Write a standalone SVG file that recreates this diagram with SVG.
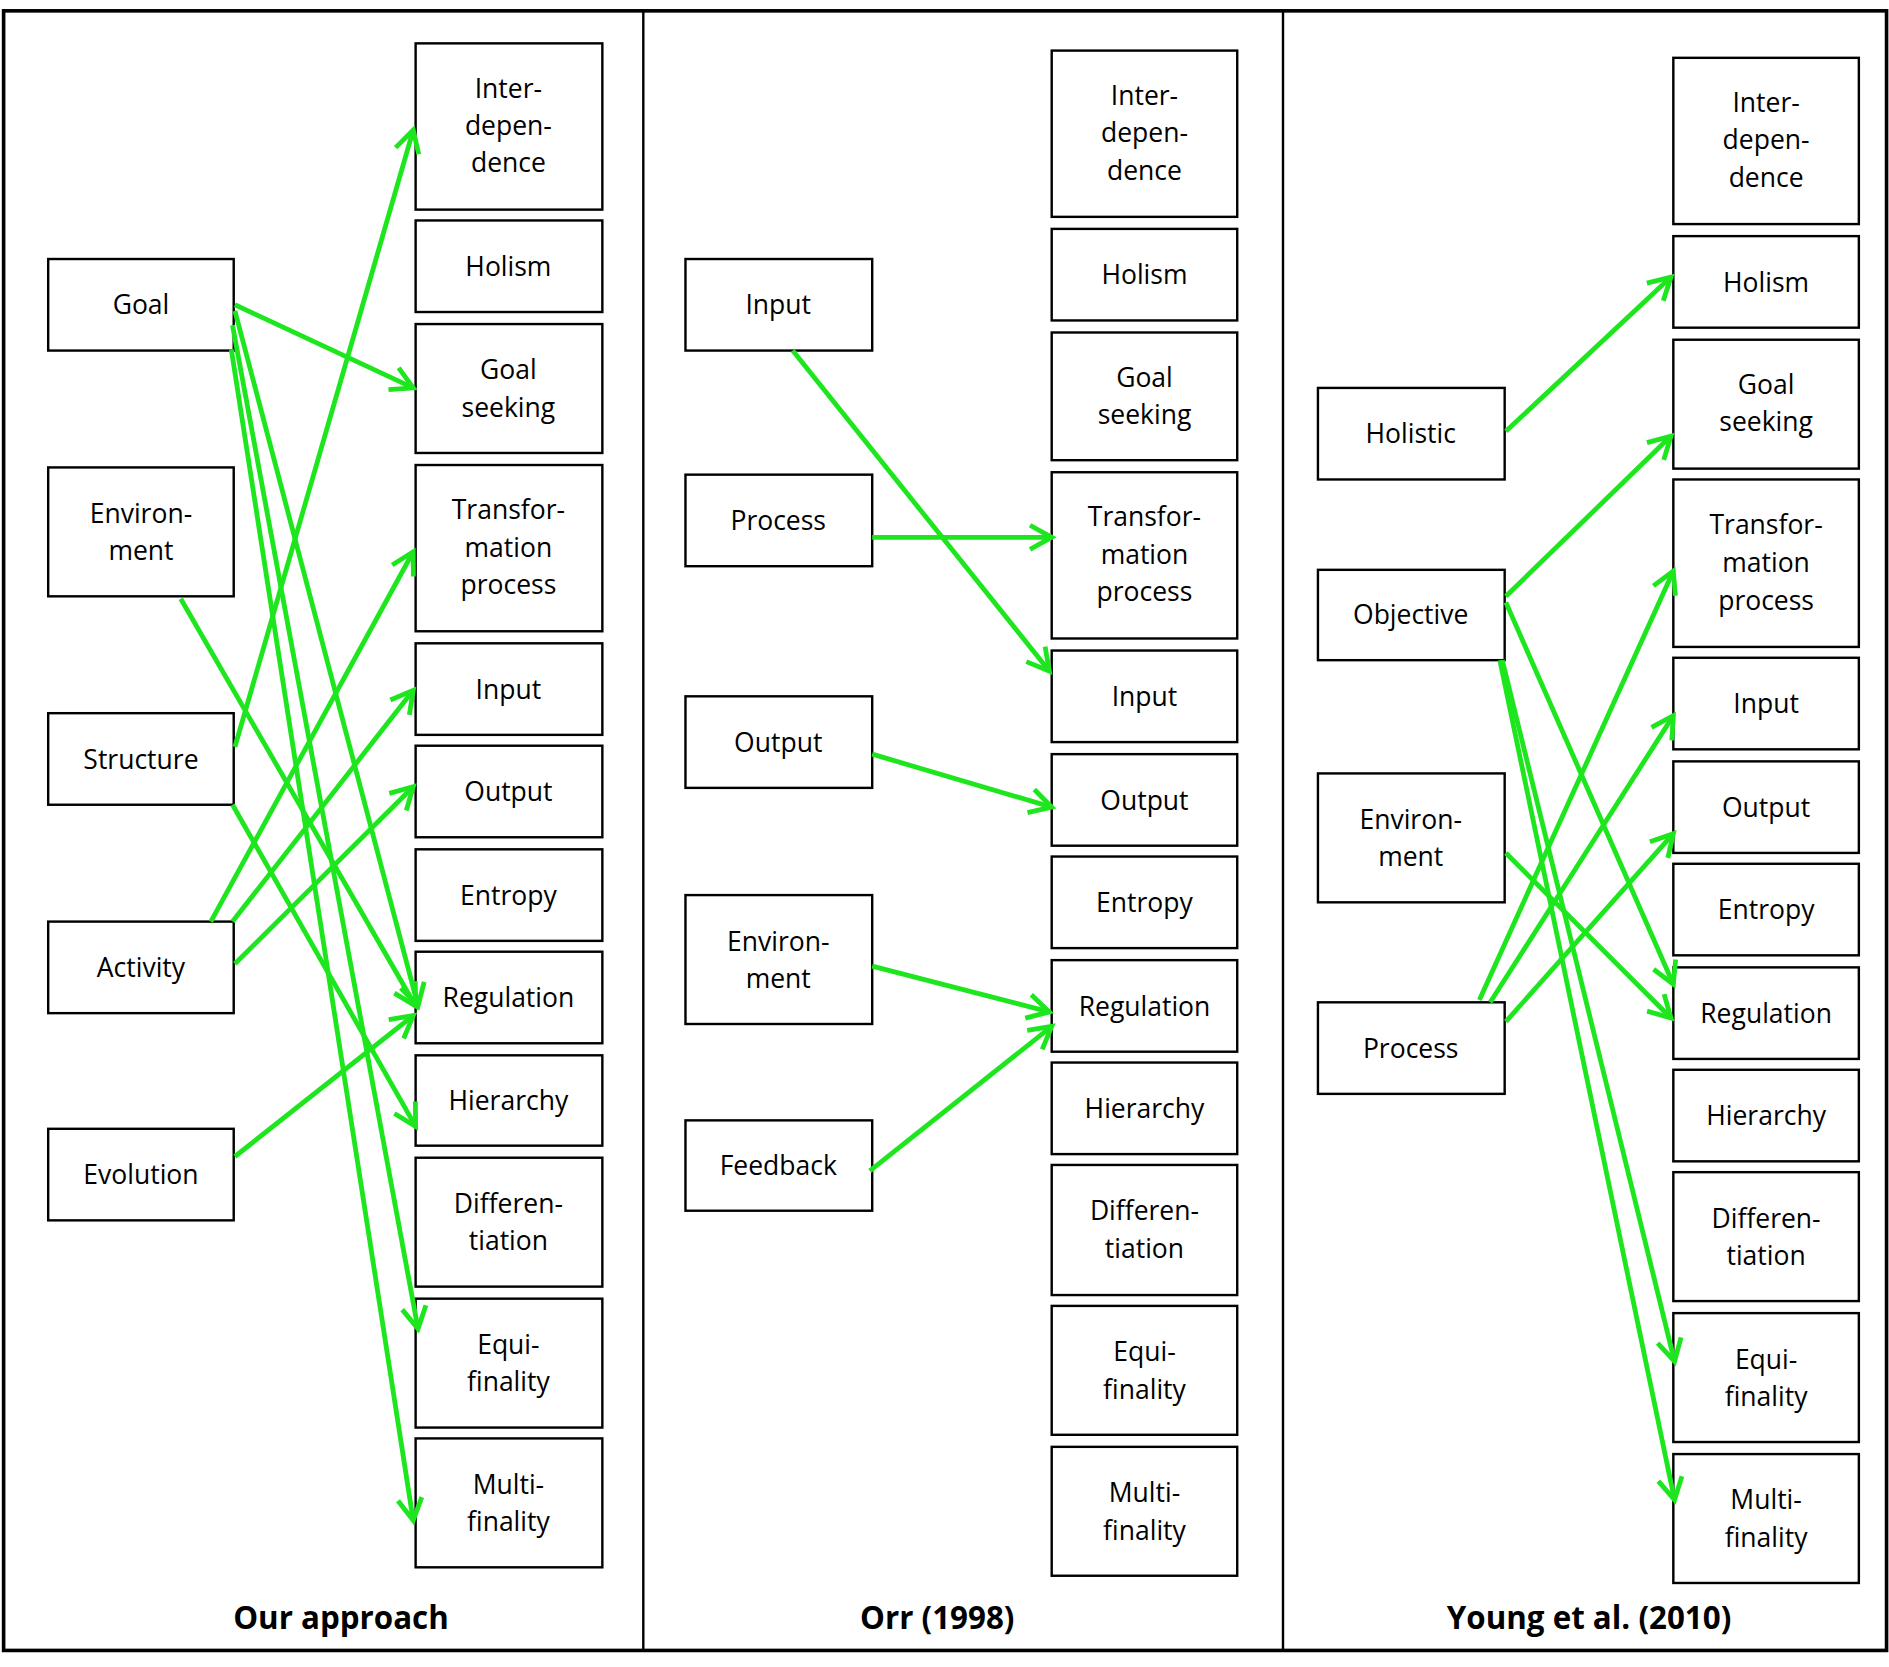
<svg xmlns="http://www.w3.org/2000/svg" width="1889" height="1667" viewBox="0 0 1889 1667">
<defs>
<style>
.b{fill:#fff;stroke:#000;stroke-width:2}
text{font-family:"Open Sans","DejaVu Sans",sans-serif;font-size:22px;text-anchor:middle;fill:#000}
.t{font-weight:bold;font-size:26px}
.c line{stroke:#1ee61e;stroke-width:4;marker-end:url(#a)}
</style>
<marker id="a" markerUnits="userSpaceOnUse" markerWidth="40" markerHeight="40" viewBox="-20 -20 40 40" refX="0" refY="0" orient="auto"><path d="M-18,-10 L0,0 L-18,10" fill="none" stroke="#1ee61e" stroke-width="4"/></marker>
</defs>
<rect width="1889" height="1667" fill="#fff"/>
<g transform="scale(1.2047,1.2047)">
<g id="frame"><rect x="3" y="9" width="1563" height="1361" fill="none" stroke="#000" stroke-width="3"/><line x1="534" y1="9" x2="534" y2="1370" stroke="#000" stroke-width="2"/><line x1="1065" y1="9" x2="1065" y2="1370" stroke="#000" stroke-width="2"/></g>
<g id="titles"><text class="t" x="283" y="1352">Our approach</text><text class="t" x="778" y="1352">Orr (1998)</text><text class="t" x="1319" y="1352">Young et al. (2010)</text></g>
<g id="p1">
<g id="p1-inter"><rect class="b" x="345" y="36" width="155" height="138"/><text x="422" y="81">Inter-</text><text x="422" y="112">depen-</text><text x="422" y="143">dence</text></g>
<g id="p1-holism"><rect class="b" x="345" y="183" width="155" height="76"/><text x="422" y="229">Holism</text></g>
<g id="p1-goal"><rect class="b" x="345" y="269" width="155" height="107"/><text x="422" y="315">Goal</text><text x="422" y="346">seeking</text></g>
<g id="p1-transf"><rect class="b" x="345" y="386" width="155" height="138"/><text x="422" y="431">Transfor-</text><text x="422" y="462">mation</text><text x="422" y="493">process</text></g>
<g id="p1-input"><rect class="b" x="345" y="534" width="155" height="76"/><text x="422" y="580">Input</text></g>
<g id="p1-output"><rect class="b" x="345" y="619" width="155" height="76"/><text x="422" y="665">Output</text></g>
<g id="p1-entropy"><rect class="b" x="345" y="705" width="155" height="76"/><text x="422" y="751">Entropy</text></g>
<g id="p1-reg"><rect class="b" x="345" y="790" width="155" height="76"/><text x="422" y="836">Regulation</text></g>
<g id="p1-hier"><rect class="b" x="345" y="876" width="155" height="75"/><text x="422" y="921">Hierarchy</text></g>
<g id="p1-diff"><rect class="b" x="345" y="961" width="155" height="107"/><text x="422" y="1007">Differen-</text><text x="422" y="1038">tiation</text></g>
<g id="p1-equi"><rect class="b" x="345" y="1078" width="155" height="107"/><text x="422" y="1124">Equi-</text><text x="422" y="1155">finality</text></g>
<g id="p1-multi"><rect class="b" x="345" y="1194" width="155" height="107"/><text x="422" y="1240">Multi-</text><text x="422" y="1271">finality</text></g>
<g id="p1-Goal"><rect class="b" x="40" y="215" width="154" height="76"/><text x="117" y="261">Goal</text></g>
<g id="p1-Env"><rect class="b" x="40" y="388" width="154" height="107"/><text x="117" y="434">Environ-</text><text x="117" y="465">ment</text></g>
<g id="p1-Struct"><rect class="b" x="40" y="592" width="154" height="76"/><text x="117" y="638">Structure</text></g>
<g id="p1-Act"><rect class="b" x="40" y="765" width="154" height="76"/><text x="117" y="811">Activity</text></g>
<g id="p1-Evo"><rect class="b" x="40" y="937" width="154" height="76"/><text x="117" y="983">Evolution</text></g>
</g>
<g id="p2">
<g id="p2-inter"><rect class="b" x="873" y="42" width="154" height="138"/><text x="950" y="87">Inter-</text><text x="950" y="118">depen-</text><text x="950" y="149">dence</text></g>
<g id="p2-holism"><rect class="b" x="873" y="190" width="154" height="76"/><text x="950" y="236">Holism</text></g>
<g id="p2-goal"><rect class="b" x="873" y="276" width="154" height="106"/><text x="950" y="321">Goal</text><text x="950" y="352">seeking</text></g>
<g id="p2-transf"><rect class="b" x="873" y="392" width="154" height="138"/><text x="950" y="437">Transfor-</text><text x="950" y="468">mation</text><text x="950" y="499">process</text></g>
<g id="p2-input"><rect class="b" x="873" y="540" width="154" height="76"/><text x="950" y="586">Input</text></g>
<g id="p2-output"><rect class="b" x="873" y="626" width="154" height="76"/><text x="950" y="672">Output</text></g>
<g id="p2-entropy"><rect class="b" x="873" y="711" width="154" height="76"/><text x="950" y="757">Entropy</text></g>
<g id="p2-reg"><rect class="b" x="873" y="797" width="154" height="76"/><text x="950" y="843">Regulation</text></g>
<g id="p2-hier"><rect class="b" x="873" y="882" width="154" height="76"/><text x="950" y="928">Hierarchy</text></g>
<g id="p2-diff"><rect class="b" x="873" y="967" width="154" height="108"/><text x="950" y="1013">Differen-</text><text x="950" y="1044">tiation</text></g>
<g id="p2-equi"><rect class="b" x="873" y="1084" width="154" height="107"/><text x="950" y="1130">Equi-</text><text x="950" y="1161">finality</text></g>
<g id="p2-multi"><rect class="b" x="873" y="1201" width="154" height="107"/><text x="950" y="1247">Multi-</text><text x="950" y="1278">finality</text></g>
<g id="p2-Input"><rect class="b" x="569" y="215" width="155" height="76"/><text x="646" y="261">Input</text></g>
<g id="p2-Proc"><rect class="b" x="569" y="394" width="155" height="76"/><text x="646" y="440">Process</text></g>
<g id="p2-Out"><rect class="b" x="569" y="578" width="155" height="76"/><text x="646" y="624">Output</text></g>
<g id="p2-Env"><rect class="b" x="569" y="743" width="155" height="107"/><text x="646" y="789">Environ-</text><text x="646" y="820">ment</text></g>
<g id="p2-Feed"><rect class="b" x="569" y="930" width="155" height="75"/><text x="646" y="975">Feedback</text></g>
</g>
<g id="p3">
<g id="p3-inter"><rect class="b" x="1389" y="48" width="154" height="138"/><text x="1466" y="93">Inter-</text><text x="1466" y="124">depen-</text><text x="1466" y="155">dence</text></g>
<g id="p3-holism"><rect class="b" x="1389" y="196" width="154" height="76"/><text x="1466" y="242">Holism</text></g>
<g id="p3-goal"><rect class="b" x="1389" y="282" width="154" height="107"/><text x="1466" y="327">Goal</text><text x="1466" y="358">seeking</text></g>
<g id="p3-transf"><rect class="b" x="1389" y="398" width="154" height="139"/><text x="1466" y="443">Transfor-</text><text x="1466" y="475">mation</text><text x="1466" y="506">process</text></g>
<g id="p3-input"><rect class="b" x="1389" y="546" width="154" height="76"/><text x="1466" y="592">Input</text></g>
<g id="p3-output"><rect class="b" x="1389" y="632" width="154" height="76"/><text x="1466" y="678">Output</text></g>
<g id="p3-entropy"><rect class="b" x="1389" y="717" width="154" height="76"/><text x="1466" y="763">Entropy</text></g>
<g id="p3-reg"><rect class="b" x="1389" y="803" width="154" height="76"/><text x="1466" y="849">Regulation</text></g>
<g id="p3-hier"><rect class="b" x="1389" y="888" width="154" height="76"/><text x="1466" y="934">Hierarchy</text></g>
<g id="p3-diff"><rect class="b" x="1389" y="973" width="154" height="107"/><text x="1466" y="1019">Differen-</text><text x="1466" y="1050">tiation</text></g>
<g id="p3-equi"><rect class="b" x="1389" y="1090" width="154" height="107"/><text x="1466" y="1136">Equi-</text><text x="1466" y="1167">finality</text></g>
<g id="p3-multi"><rect class="b" x="1389" y="1207" width="154" height="107"/><text x="1466" y="1253">Multi-</text><text x="1466" y="1284">finality</text></g>
<g id="p3-Hol"><rect class="b" x="1094" y="322" width="155" height="76"/><text x="1171" y="368">Holistic</text></g>
<g id="p3-Obj"><rect class="b" x="1094" y="473" width="155" height="75"/><text x="1171" y="518">Objective</text></g>
<g id="p3-Env"><rect class="b" x="1094" y="642" width="155" height="107"/><text x="1171" y="688">Environ-</text><text x="1171" y="719">ment</text></g>
<g id="p3-Proc"><rect class="b" x="1094" y="832" width="155" height="76"/><text x="1171" y="878">Process</text></g>
</g>
<g id="connectors" class="c">
<line x1="195" y1="253" x2="343" y2="322"/>
<line x1="195" y1="258" x2="347" y2="835"/>
<line x1="193" y1="270" x2="347" y2="1103"/>
<line x1="192" y1="290" x2="343" y2="1262"/>
<line x1="195" y1="620" x2="343" y2="108"/>
<line x1="193" y1="668" x2="345" y2="935"/>
<line x1="150" y1="497" x2="345" y2="835"/>
<line x1="175" y1="765" x2="343" y2="458"/>
<line x1="193" y1="765" x2="343" y2="573"/>
<line x1="195" y1="800" x2="343" y2="653"/>
<line x1="195" y1="960" x2="343" y2="843"/>
<line x1="658" y1="291" x2="871" y2="557"/>
<line x1="724" y1="446" x2="873" y2="446"/>
<line x1="724" y1="626" x2="873" y2="670"/>
<line x1="724" y1="802" x2="871" y2="840"/>
<line x1="722" y1="972" x2="873" y2="852"/>
<line x1="1250" y1="358" x2="1387" y2="230"/>
<line x1="1250" y1="495" x2="1387" y2="362"/>
<line x1="1250" y1="500" x2="1389" y2="817"/>
<line x1="1247" y1="548" x2="1390" y2="1130"/>
<line x1="1245" y1="548" x2="1390" y2="1245"/>
<line x1="1250" y1="708" x2="1387" y2="845"/>
<line x1="1228" y1="830" x2="1389" y2="474"/>
<line x1="1237" y1="832" x2="1389" y2="594"/>
<line x1="1250" y1="848" x2="1389" y2="692"/>
</g>
</g>
</svg>
